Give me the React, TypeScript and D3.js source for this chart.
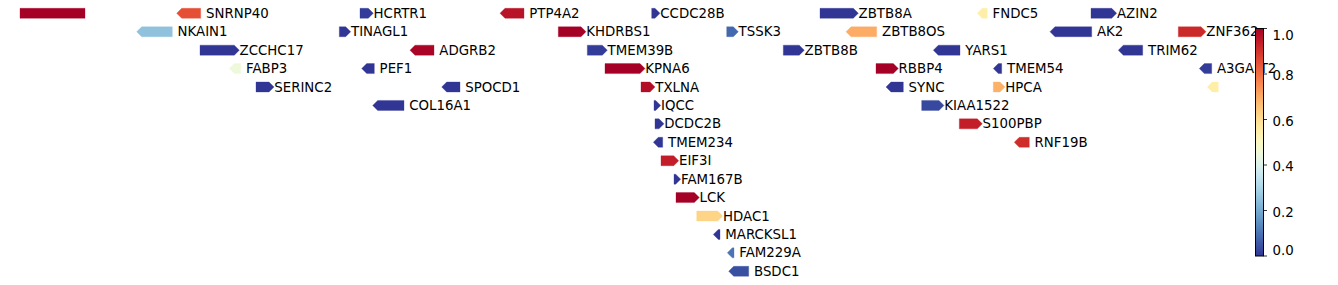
import React from "react";
import * as d3 from "d3";

// gene names, track rows, body start/end (kb, arbitrary origin), strand, value
const names = [
  "", "SNRNP40", "HCRTR1", "PTP4A2", "CCDC28B", "ZBTB8A", "FNDC5", "AZIN2",
  "NKAIN1", "TINAGL1", "KHDRBS1", "TSSK3", "ZBTB8OS", "AK2", "ZNF362",
  "ZCCHC17", "ADGRB2", "TMEM39B", "ZBTB8B", "YARS1", "TRIM62",
  "FABP3", "PEF1", "KPNA6", "RBBP4", "TMEM54", "A3GALT2",
  "SERINC2", "SPOCD1", "TXLNA", "SYNC", "HPCA", "",
  "COL16A1", "IQCC", "KIAA1522",
  "DCDC2B", "S100PBP",
  "TMEM234", "RNF19B",
  "EIF3I", "FAM167B", "LCK", "HDAC1", "MARCKSL1", "FAM229A", "BSDC1",
];
const rows = [
  0, 0, 0, 0, 0, 0, 0, 0,
  1, 1, 1, 1, 1, 1, 1,
  2, 2, 2, 2, 2, 2,
  3, 3, 3, 3, 3, 3,
  4, 4, 4, 4, 4, 4,
  5, 5, 5,
  6, 6,
  7, 7,
  8, 9, 10, 11, 12, 13, 14,
];
const starts = [
  0, 161.7, 340, 485, 631.7, 800, 962.3, 1071,
  121.7, 319.3, 538.3, 706.7, 831, 1035, 1158.3,
  180, 395, 567.3, 763.3, 918.3, 1103.3,
  214.3, 346.7, 585, 856, 978.3, 1184.3,
  236, 426.7, 621, 871, 973.3, 1192.3,
  357.7, 634, 901.7,
  635, 939.3,
  638.3, 999.3,
  641, 654, 656, 676.7, 698.3, 712.3, 713.7,
];
const ends = [
  65, 180.7, 348.3, 504, 635, 833.3, 967.3, 1091.7,
  152.3, 325.7, 561, 713.3, 856.7, 1071.7, 1181,
  214.3, 414, 582.3, 779.3, 940, 1122.7,
  220.7, 354.3, 620, 873.3, 981.7, 1191.7,
  249, 440, 630, 883.3, 980, 1198.3,
  384, 635.7, 919,
  639, 957.3,
  642.7, 1009.3,
  653.7, 655.7, 674.3, 697.7, 700, 714, 728.7,
];
// 1 = forward, -1 = reverse, 0 = truncated (no head)
const strands = [
  0, -1, 1, -1, 1, 1, -1, 1,
  -1, 1, 1, 1, -1, -1, 1,
  1, -1, 1, 1, -1, -1,
  -1, -1, 1, 1, -1, -1,
  1, -1, 1, -1, 1, -1,
  -1, 1, 1,
  1, 1,
  -1, -1,
  1, 1, 1, 1, -1, -1, -1,
];
const values = [
  1.0, 0.85, 0.01, 0.96, 0.0, 0.0, 0.55, 0.0,
  0.25, 0.0, 1.0, 0.08, 0.7, 0.0, 0.92,
  0.0, 0.99, 0.01, 0.0, 0.0, 0.0,
  0.45, 0.0, 1.0, 1.0, 0.0, 0.01,
  0.0, 0.0, 0.97, 0.0, 0.69, 0.55,
  0.0, 0.0, 0.03,
  0.0, 0.94,
  0.0, 0.91,
  0.94, 0.0, 1.0, 0.62, 0.0, 0.1, 0.04,
];
const colorTicks = [0.0, 0.2, 0.4, 0.6, 0.8, 1.0];

const W = 1338;
const H = 285;
const FONT = "'DejaVu Sans', sans-serif";
const FS = 13.33;

export default function App() {
  const x = d3.scaleLinear().domain([0, 1200]).range([20, 1220]);
  const rowIds = d3.range(15);
  const y = d3.scalePoint<number>().domain(rowIds).range([13.3, 271.3]);
  const color = (v: number) => d3.interpolateRdYlBu(1 - v);
  const hh = 5; // half height
  const head = 5; // arrowhead px
  const genes = names.map((n, i) => ({
    name: n,
    row: rows[i],
    s: starts[i],
    e: ends[i],
    strand: strands[i],
    v: values[i],
  }));

  const path = (g: any) => {
    const x0 = x(g.s);
    const x1 = x(g.e);
    const cy = y(g.row)!;
    const p = d3.path();
    if (g.strand === 1) {
      p.moveTo(x0, cy - hh);
      p.lineTo(x1, cy - hh);
      p.lineTo(x1 + head, cy);
      p.lineTo(x1, cy + hh);
      p.lineTo(x0, cy + hh);
    } else if (g.strand === -1) {
      p.moveTo(x1, cy - hh);
      p.lineTo(x0, cy - hh);
      p.lineTo(x0 - head, cy);
      p.lineTo(x0, cy + hh);
      p.lineTo(x1, cy + hh);
    } else {
      p.rect(x0, cy - hh, x1 - x0, 2 * hh);
    }
    p.closePath();
    return p.toString();
  };

  // colorbar
  const cbX = 1255.5;
  const cbW = 8;
  const cbTop = 28.5;
  const cbBot = 256;
  const cy = d3.scaleLinear().domain([0, 1]).range([cbBot, cbTop]);
  const stops = d3.range(0, 1.0001, 0.05);

  return (
    <svg width={W} height={H} style={{ display: "block", position: "absolute", left: 0, top: 0 }}>
      <defs>
        <linearGradient id="cbg" x1="0" y1="1" x2="0" y2="0">
          {stops.map((t) => (
            <stop key={t} offset={`${t * 100}%`} stopColor={color(t)} />
          ))}
        </linearGradient>
      </defs>
      <rect x={0} y={0} width={W} height={H} fill="#fff" />
      <g>
        {genes.map((g, i) => (
          <path key={i} d={path(g)} fill={color(g.v)} stroke={color(g.v)} strokeOpacity={0.4} strokeWidth={0.8} />
        ))}
      </g>
      <g fontFamily={FONT} fontSize={FS} fill="#000">
        {genes.map((g, i) =>
          g.name ? (
            <text key={i} x={x(g.e) + head + 0.3} y={y(g.row)!} dominantBaseline="central">
              {g.name}
            </text>
          ) : null
        )}
      </g>
      <g>
        <rect x={cbX} y={cbTop} width={cbW} height={cbBot - cbTop} fill="url(#cbg)" stroke="#000" strokeWidth={1} />
        {colorTicks.map((t) => {
          const ty = cy(t);
          const ly = Math.min(Math.max(ty + 1.5, cbTop + 7), cbBot - 5.5);
          return (
            <g key={t}>
              <line x1={cbX + cbW} x2={cbX + cbW + 3.5} y1={ty} y2={ty} stroke="#000" strokeWidth={0.8} />
              <text x={1272.5} y={ly} fontFamily={FONT} fontSize={FS} dominantBaseline="central" fill="#000">
                {t.toFixed(1)}
              </text>
            </g>
          );
        })}
      </g>
    </svg>
  );
}
